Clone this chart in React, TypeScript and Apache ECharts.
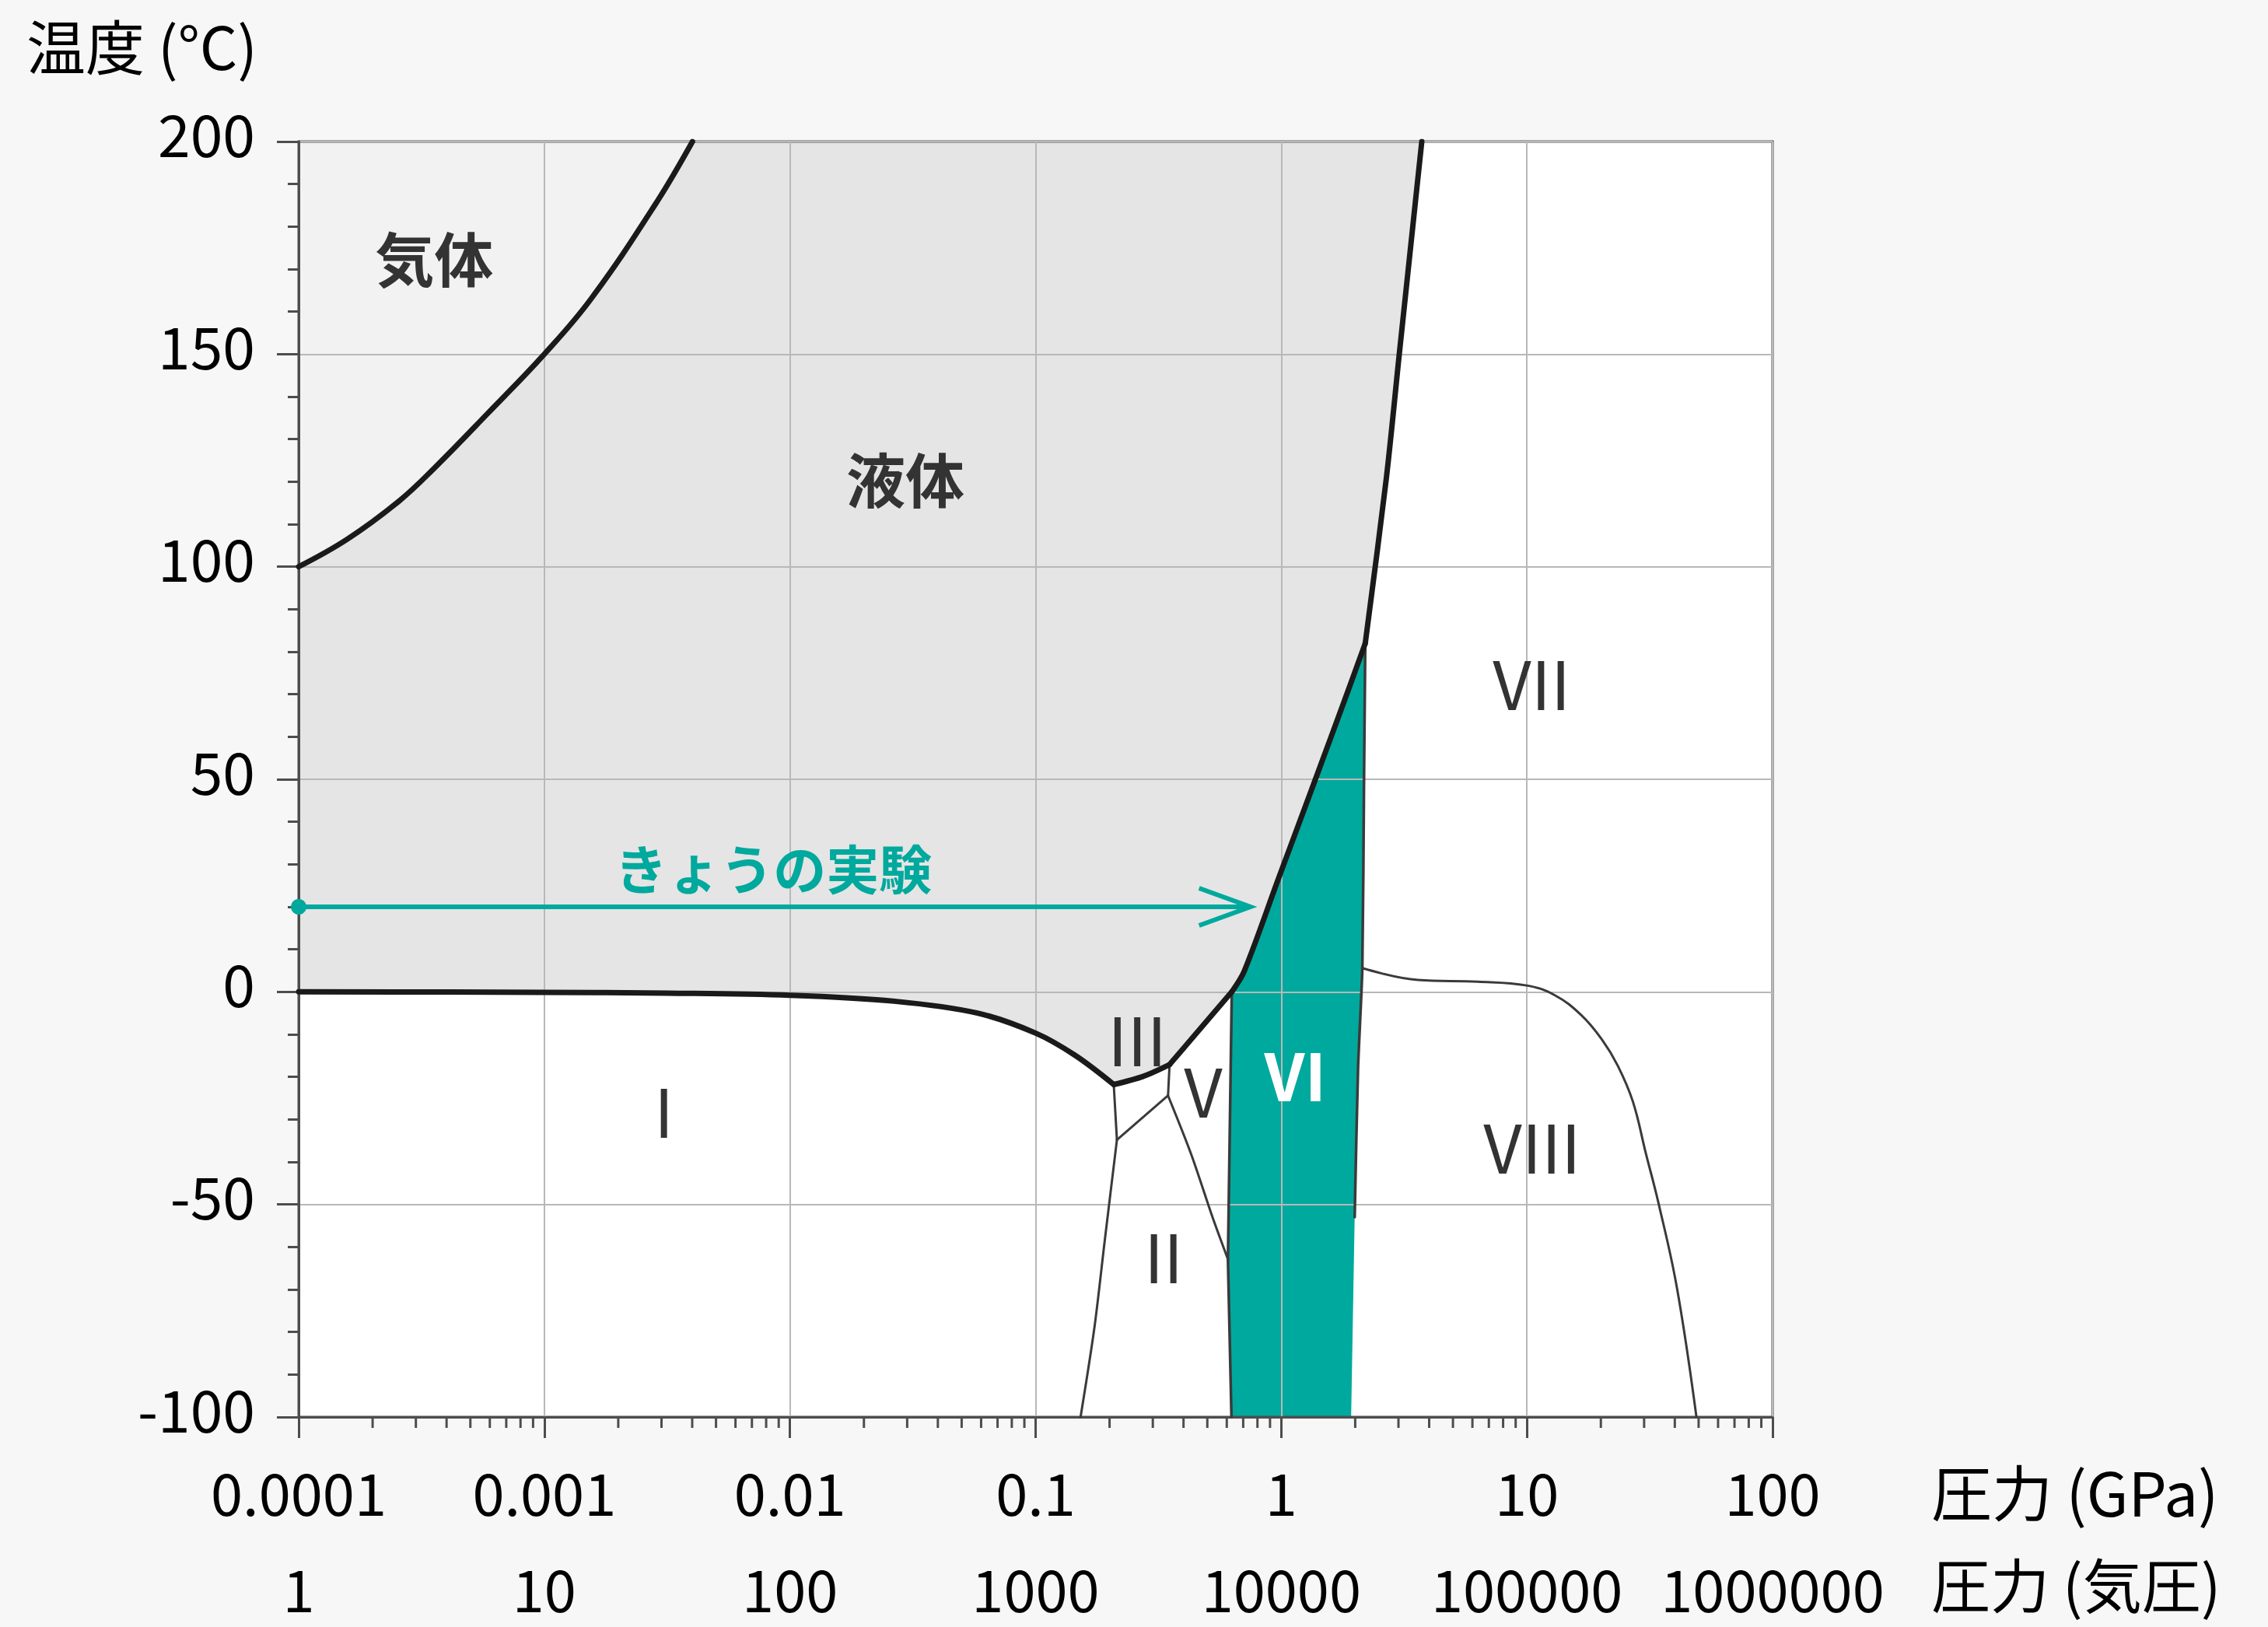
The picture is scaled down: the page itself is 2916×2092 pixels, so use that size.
import React, { useEffect, useRef } from "react";
import * as echarts from "echarts";

const FONT = "'Noto Sans CJK JP', 'Noto Sans', sans-serif";

// Axis tick labels
const gpaTickLabels = ["0.0001", "0.001", "0.01", "0.1", "1", "10", "100"];
const atmTickLabels = ["1", "10", "100", "1000", "10000", "100000", "1000000"];
const tempTicks = [-100, -50, 0, 50, 100, 150, 200];

// Phase boundaries, [pressure in GPa, temperature in °C]
const vaporCurve = [[0.0001, 100], [0.000158, 106.5], [0.000257, 115.5], [0.000361, 123.5], [0.000587, 136], [0.001, 150], [0.00155, 163], [0.00285, 185.5], [0.00401, 200]];
const meltIh = [[0.0001, 0], [0.001, -0.1], [0.00316, -0.3], [0.01, -0.8], [0.0266, -2.2], [0.058, -5.0], [0.1, -9.7], [0.1445, -14.9], [0.208, -21.8]];
const meltIII = [[0.208, -21.8], [0.2735, -19.9], [0.351, -17.1]];
const meltV = [[0.351, -17.1], [0.629, 0]];
const meltVI = [[0.629, 0], [0.706, 4.8], [0.978, 26.9], [1.355, 48.9], [1.875, 71], [2.198, 82]];
const meltVII = [[2.198, 82], [2.679, 120.9], [3.027, 150.3], [3.733, 200]];
const boundVI_VII = [[2.198, 82], [2.172, 49.7], [2.138, 5.6], [2.054, -17.9], [1.99, -53]];
const edgeVI_VII_low = [[1.99, -53], [1.925, -100]];
const boundV_VI = [[0.629, 0], [0.6066, -62.9]];
const boundII_VI = [[0.6066, -62.9], [0.627, -100]];
const boundI_III = [[0.208, -21.8], [0.2143, -34.8]];
const boundI_II = [[0.2143, -34.8], [0.191, -58.7], [0.1734, -79.1], [0.1524, -100]];
const boundII_III = [[0.2143, -34.8], [0.346, -24.4]];
const boundIII_V = [[0.351, -17.1], [0.346, -24.4]];
const boundII_V = [[0.346, -24.4], [0.4305, -38.3], [0.525, -53], [0.6066, -62.9]];
const boundVII_VIII = [[2.138, 5.6], [3.6, 2.8], [6.3, 2.4], [9.98, 1.5], [13.0, -0.8], [16.6, -5.4], [20.2, -11.2], [23.4, -17.3], [27.0, -25.8], [30.5, -38.0], [34.4, -49.9], [40.8, -69.6], [49.0, -100]];

// Today's experiment: 20 °C, from 1 atm to the VI boundary
const experimentT = 20;
const experimentFromP = 0.0001;
const experimentToP = 0.749;

// Region labels
const regionNames = ["気体", "液体", "きょうの実験", "I", "II", "III", "V", "VI", "VII", "VIII"];
const regionP = [0.000356, 0.0295, 0.00855, 0.00307, 0.332, 0.259, 0.481, 1.14, 10.45, 10.5];
const regionT = [173, 121, 29.5, -27.5, -61.6, -10.6, -22.8, -19.1, 73.2, -35.8];

const L = (p: number) => Math.log10(p);
const toXY = (arr: number[][]) => arr.map(([p, t]) => [L(p), t]);
const rev = (a: number[][]) => a.slice().reverse();

const minorTickValues: number[] = [];
for (let d = -4; d < 2; d++) for (let m = 2; m <= 9; m++) minorTickValues.push(m * Math.pow(10, d));

const TEAL = "#00a99d";

export default function App() {
  const ref = useRef<HTMLDivElement>(null);
  useEffect(() => {
    if (!ref.current) return;
    const chart = echarts.init(ref.current, null, { renderer: "svg" });

    const fillShapes = [
      { pts: [[0.0001, -100], [100, -100], [100, 200], [0.0001, 200]], color: "#ffffff" },
      { pts: [...vaporCurve, [0.0001, 200]], color: "#f2f2f2" },
      { pts: [...vaporCurve, ...rev(meltVII), ...rev(meltVI), ...rev(meltV), ...rev(meltIII), ...rev(meltIh)], color: "#e5e5e5" },
      { pts: [...meltVI, ...boundVI_VII, ...edgeVI_VII_low, [0.627, -100], [0.6066, -62.9]], color: TEAL },
    ];

    const thick = { color: "#1a1a1a", width: 7, cap: "round", join: "round" };
    const thin = { color: "#3a3a3a", width: 3, cap: "round", join: "round" };
    const mid = { color: "#3a3a3a", width: 3.5, cap: "round", join: "round" };
    const lineSeries = (pts: number[][], style: any, smooth: number | boolean = false) => ({
      type: "line",
      data: toXY(pts),
      symbol: "none",
      showSymbol: false,
      silent: true,
      smooth,
      z: 3,
      lineStyle: style,
    });

    const labelStyles: Record<string, any> = {
      "気体": { fontSize: 76, fontWeight: "bold", fill: "#333" },
      "液体": { fontSize: 76, fontWeight: "bold", fill: "#333" },
      "きょうの実験": { fontSize: 68, fontWeight: "bold", fill: TEAL },
      "VI": { fontSize: 84, fontWeight: "bold", fill: "#ffffff" },
    };

    const xLabel = {
      fontSize: 74,
      lineHeight: 74,
      fontFamily: FONT,
      color: "#000",
      margin: 57,
      showMinLabel: true,
      showMaxLabel: true,
    };

    const option: any = {
      animation: false,
      backgroundColor: "#f7f7f7",
      grid: {
        left: 384,
        top: 182,
        right: 2916 - 2279,
        bottom: 2092 - 1822,
        show: true,
        borderColor: "#4d4d4d",
        borderWidth: 3,
        backgroundColor: "transparent",
      },
      xAxis: [
        {
          type: "value",
          min: -4,
          max: 2,
          interval: 1,
          position: "bottom",
          axisLine: { show: true, onZero: false, lineStyle: { color: "#4d4d4d", width: 3 } },
          axisTick: { show: true, length: 27, lineStyle: { color: "#4d4d4d", width: 3 } },
          splitLine: { show: true, lineStyle: { color: "#b8b8b8", width: 2 } },
          axisLabel: { ...xLabel, formatter: (v: number) => gpaTickLabels[Math.round(v) + 4] },
        },
        {
          type: "value",
          min: -4,
          max: 2,
          interval: 1,
          position: "bottom",
          offset: 124,
          axisLine: { show: false, onZero: false },
          axisTick: { show: false },
          splitLine: { show: false },
          axisLabel: { ...xLabel, formatter: (v: number) => atmTickLabels[Math.round(v) + 4] },
        },
      ],
      yAxis: {
        type: "value",
        min: tempTicks[0],
        max: tempTicks[tempTicks.length - 1],
        interval: 50,
        axisLine: { show: true, onZero: false, lineStyle: { color: "#4d4d4d", width: 3 } },
        axisTick: { show: true, length: 28, lineStyle: { color: "#4d4d4d", width: 3 } },
        minorTick: { show: true, splitNumber: 5, length: 14, lineStyle: { color: "#4d4d4d", width: 3 } },
        splitLine: { show: true, lineStyle: { color: "#b8b8b8", width: 2 } },
        axisLabel: { fontSize: 75, fontFamily: FONT, color: "#000", margin: 56, verticalAlign: "bottom", lineHeight: 26 },
      },
      graphic: [
        {
          type: "text",
          x: 34,
          y: 57,
          z: 10,
          style: { text: "温度 (°C)", fontSize: 76, fontFamily: FONT, fill: "#000", align: "left", verticalAlign: "middle" },
        },
        {
          type: "text",
          x: 2483,
          y: 1916,
          z: 10,
          style: { text: "圧力 (GPa)", fontSize: 78, fontFamily: FONT, fill: "#000", align: "left", verticalAlign: "middle" },
        },
        {
          type: "text",
          x: 2483,
          y: 2035,
          z: 10,
          style: { text: "圧力 (気圧)", fontSize: 76, fontFamily: FONT, fill: "#000", align: "left", verticalAlign: "middle" },
        },
      ],
      series: [
        {
          type: "custom",
          z: -1,
          silent: true,
          clip: false,
          data: fillShapes.map(() => [-4, -100]),
          renderItem: (params: any, api: any) => {
            const s = fillShapes[params.dataIndex];
            return {
              type: "polygon",
              z2: params.dataIndex,
              shape: { points: s.pts.map(([p, t]) => api.coord([L(p), t])) },
              style: { fill: s.color, stroke: null },
            };
          },
        },
        {
          type: "custom",
          silent: true,
          clip: false,
          z: 4,
          data: minorTickValues.map((v) => [L(v), -100]),
          renderItem: (params: any, api: any) => {
            const pt = api.coord([api.value(0), api.value(1)]);
            return {
              type: "line",
              shape: { x1: pt[0], y1: pt[1], x2: pt[0], y2: pt[1] + 14 },
              style: { stroke: "#4d4d4d", lineWidth: 3 },
            };
          },
        },
        lineSeries(boundI_III, thin),
        lineSeries(boundI_II, thin, 0.3),
        lineSeries(boundII_III, thin),
        lineSeries(boundIII_V, thin),
        lineSeries(boundII_V, thin, 0.3),
        lineSeries(boundV_VI, mid),
        lineSeries(boundII_VI, mid),
        lineSeries(boundVI_VII, mid, 0.2),
        lineSeries(boundVII_VIII, thin, 0.4),
        lineSeries(vaporCurve, thick, 0.4),
        lineSeries(meltIh, thick, 0.35),
        lineSeries(meltIII, thick, 0.3),
        lineSeries(meltV, thick),
        lineSeries(meltVI, thick, 0.3),
        lineSeries(meltVII, thick, 0.3),
        {
          type: "custom",
          silent: true,
          clip: false,
          z: 5,
          data: [[L(experimentFromP), experimentT, L(experimentToP)]],
          renderItem: (params: any, api: any) => {
            const a = api.coord([api.value(0), api.value(1)]);
            const b = api.coord([api.value(2), api.value(1)]);
            return {
              type: "group",
              children: [
                { type: "line", shape: { x1: a[0], y1: a[1], x2: b[0] - 3, y2: b[1] }, style: { stroke: TEAL, lineWidth: 6 } },
                {
                  type: "polyline",
                  shape: { points: [[b[0] - 66, b[1] - 24], [b[0], b[1]], [b[0] - 66, b[1] + 24]] },
                  style: { stroke: TEAL, lineWidth: 6, fill: null },
                },
                { type: "circle", shape: { cx: a[0], cy: a[1], r: 10 }, style: { fill: TEAL } },
              ],
            };
          },
        },
        {
          type: "custom",
          silent: true,
          clip: false,
          z: 6,
          data: regionNames.map((n, i) => [L(regionP[i]), regionT[i]]),
          renderItem: (params: any, api: any) => {
            const name = regionNames[params.dataIndex];
            const pt = api.coord([api.value(0), api.value(1)]);
            const st = labelStyles[name] || { fontSize: 86, fontWeight: "normal", fill: "#333" };
            return {
              type: "text",
              x: pt[0],
              y: pt[1],
              style: {
                text: name,
                fontSize: st.fontSize,
                fontWeight: st.fontWeight,
                fontFamily: FONT,
                fill: st.fill,
                align: "center",
                verticalAlign: "middle",
              },
            };
          },
        },
      ],
    };

    chart.setOption(option);
    return () => chart.dispose();
  }, []);

  return (
    <div
      ref={ref}
      style={{ position: "fixed", left: 0, top: 0, width: 2916, height: 2092 }}
    />
  );
}
